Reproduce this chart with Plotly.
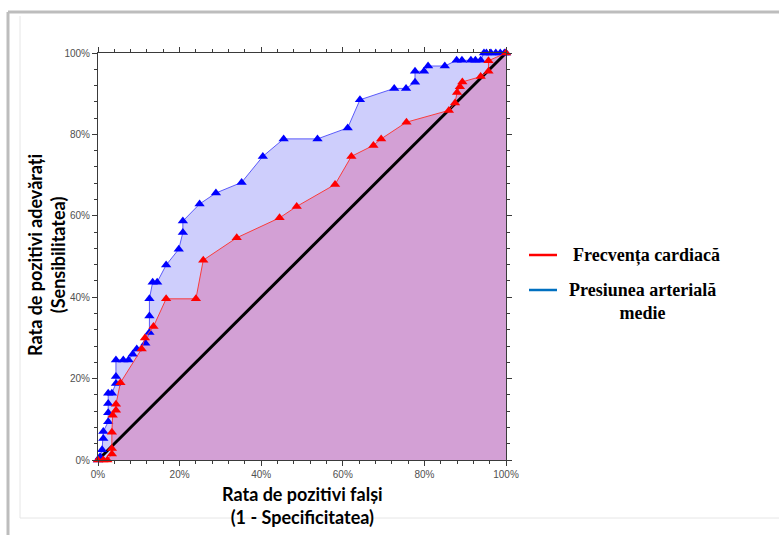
import plotly.graph_objects as go

# ROC curves: false positive rate (%) vs true positive rate (%)
name_hr = "Frecvența cardiacă"
name_map = "Presiunea arterială<br>medie"

fpr_map = [0, 0.5, 1.0, 1.3, 1.3, 2.5, 2.5, 2.5, 2.5, 3.4, 4.4, 4.4, 4.4, 6.2, 7.5, 8.5, 9.5,
           11.6, 12.6, 12.6, 12.6, 13.4, 14.5, 16.7, 19.8, 20.8, 20.8, 24.9, 28.9, 35.2, 40.4,
           45.5, 53.8, 61.2, 64.2, 72.6, 75.5, 77.7, 77.7, 79.9, 80.9, 85.0, 87.9, 89.2, 91.4,
           92.5, 93.8, 94.6, 95.2, 96.3, 97.5, 98.6, 99.6, 100]
tpr_map = [0, 0.8, 2.5, 5.3, 7.0, 9.4, 11.6, 13.9, 16.4, 16.4, 18.8, 20.5, 24.6, 24.6, 24.6, 26.0,
           27.3, 28.7, 31.3, 35.4, 39.6, 43.7, 43.7, 47.9, 51.8, 55.9, 58.7, 62.9, 65.6, 68.2,
           74.6, 78.9, 78.9, 81.6, 88.5, 91.3, 91.3, 92.8, 95.5, 95.5, 96.8, 96.8, 98.2, 98.2,
           98.2, 98.2, 98.2, 100, 100, 100, 100, 100, 100, 100]

fpr_hr = [0, 1.3, 2.3, 3.4, 3.4, 3.4, 3.6, 4.4, 4.4, 5.5, 10.7, 11.5, 13.6, 16.7, 24.0, 25.8,
          34.0, 44.5, 48.7, 58.1, 62.1, 67.5, 69.4, 75.6, 86.0, 87.5, 88.0, 88.7, 89.3, 93.8,
          95.7, 95.7, 100]
tpr_hr = [0, 0, 0, 1.5, 2.8, 6.8, 11.0, 12.2, 13.7, 19.0, 27.3, 30.0, 32.8, 39.6, 39.6, 49.1,
          54.6, 59.5, 62.3, 67.7, 74.6, 77.3, 78.9, 83.0, 85.9, 87.7, 90.3, 91.7, 92.9, 94.2,
          95.5, 98.1, 100]

ref_x = [0, 100]
ref_y = [0, 100]
tick_vals = [0, 20, 40, 60, 80, 100]
tick_text = ["0%", "20%", "40%", "60%", "80%", "100%"]

fig = go.Figure()

# shaded areas under each curve
fig.add_trace(go.Scatter(x=fpr_map, y=tpr_map, mode="none", fill="tozeroy",
                         fillcolor="rgb(206,206,252)", showlegend=False, hoverinfo="skip"))
fig.add_trace(go.Scatter(x=fpr_hr, y=tpr_hr, mode="none", fill="tozeroy",
                         fillcolor="rgb(211,160,213)", showlegend=False, hoverinfo="skip"))

# chance diagonal
fig.add_trace(go.Scatter(x=ref_x, y=ref_y, mode="lines", line=dict(color="black", width=3),
                         showlegend=False, hoverinfo="skip"))

# curves with markers
fig.add_trace(go.Scatter(x=fpr_map, y=tpr_map, mode="lines+markers", cliponaxis=False,
                         line=dict(color="rgb(90,90,250)", width=1),
                         marker=dict(symbol="triangle-up", size=9, color="rgb(0,0,255)"),
                         showlegend=False))
fig.add_trace(go.Scatter(x=fpr_hr, y=tpr_hr, mode="lines+markers", cliponaxis=False,
                         line=dict(color="rgb(250,60,60)", width=1),
                         marker=dict(symbol="triangle-up", size=9, color="rgb(255,0,0)"),
                         showlegend=False))

W, H = 779, 535
L, R, T, B = 98, 273, 53, 75
pw, ph = W - L - R, H - T - B


def px(x):
    return (x - L) / pw


def py(y):
    return (H - B - y) / ph


axis_common = dict(
    range=[0, 100], tickvals=tick_vals, ticktext=tick_text, showgrid=False, zeroline=False,
    showline=True, linecolor="#3a3a3a", linewidth=1, mirror="ticks", ticks="outside",
    ticklen=5, tickcolor="#3a3a3a", tickfont=dict(family="Liberation Sans", size=10, color="#505050"),
    minor=dict(dtick=4, ticks="outside", ticklen=3, tickcolor="#3a3a3a", showgrid=False),
    fixedrange=True,
)

fig.update_layout(
    width=W, height=H, margin=dict(l=L, r=R, t=T, b=B, autoexpand=False),
    paper_bgcolor="white", plot_bgcolor="white", showlegend=False,
    xaxis=dict(**axis_common),
    yaxis=dict(**axis_common),
)

title_font = dict(family="Lato", size=18, color="black")
legend_font = dict(family="Liberation Serif", size=18, color="black")

fig.add_annotation(text="<b>Rata de pozitivi falși</b><br><b>(1 - Specificitatea)</b>",
                   xref="paper", yref="paper", x=px(302), y=py(505), showarrow=False,
                   xanchor="center", yanchor="middle", font=title_font)
fig.add_annotation(text="<b>Rata de pozitivi adevărați</b><br><b>(Sensibilitatea)</b>",
                   xref="paper", yref="paper", x=px(46), y=py(255), showarrow=False,
                   textangle=-90, xanchor="center", yanchor="middle", font=title_font)

# legend entries
fig.add_shape(type="line", xref="paper", yref="paper", x0=px(529), x1=px(557), y0=py(255), y1=py(255),
              line=dict(color="rgb(255,0,0)", width=2.5))
fig.add_shape(type="line", xref="paper", yref="paper", x0=px(529), x1=px(557), y0=py(290), y1=py(290),
              line=dict(color="rgb(0,112,192)", width=2.5))
fig.add_annotation(text="<b>" + name_hr + "</b>", xref="paper", yref="paper", x=px(571), y=py(255),
                   showarrow=False, xanchor="left", yanchor="middle", font=legend_font)
fig.add_annotation(text="<b>" + name_map.replace("<br>", "</b><br><b>") + "</b>", xref="paper", yref="paper",
                   x=px(642), y=py(301), showarrow=False, xanchor="center", yanchor="middle",
                   align="center", font=legend_font)

# surrounding frame
fig.add_shape(type="line", xref="paper", yref="paper", x0=px(8), x1=px(779), y0=py(12), y1=py(12),
              line=dict(color="#bdbdbd", width=3))
fig.add_shape(type="line", xref="paper", yref="paper", x0=px(8), x1=px(8), y0=py(12), y1=py(535),
              line=dict(color="#bdbdbd", width=3))
fig.add_shape(type="line", xref="paper", yref="paper", x0=px(20), x1=px(20), y0=py(16), y1=py(518),
              line=dict(color="#e6e6e6", width=1))
fig.add_shape(type="line", xref="paper", yref="paper", x0=px(20), x1=px(779), y0=py(518), y1=py(518),
              line=dict(color="#e6e6e6", width=1))

fig.write_html("out.html")
